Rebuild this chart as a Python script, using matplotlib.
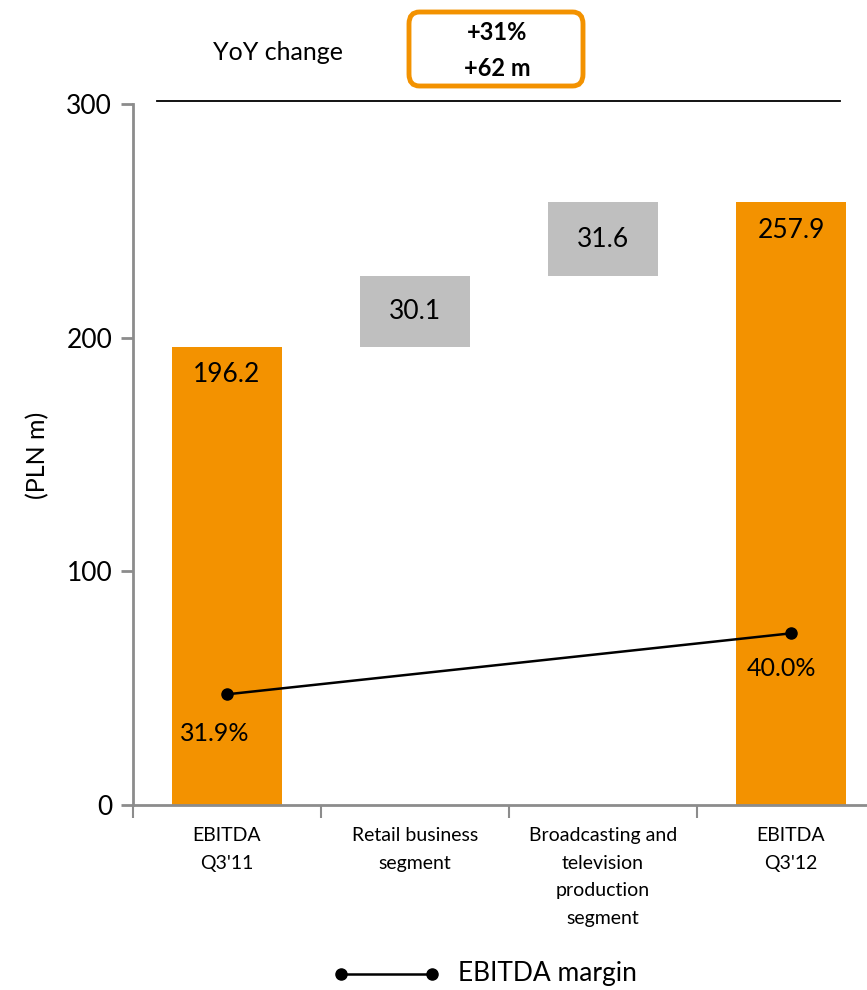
import numpy as np
import matplotlib.pyplot as plt
from matplotlib.lines import Line2D
from matplotlib.patches import FancyBboxPatch

plt.rcParams['font.family'] = ['Lato', 'DejaVu Sans']

categories = ["EBITDA\nQ3'11", "Retail business\nsegment",
              "Broadcasting and\ntelevision\nproduction\nsegment", "EBITDA\nQ3'12"]
ebitda_start = 196.2
steps = [30.1, 31.6]
ebitda_end = 257.9
margin_pos = [0, 3]
margin = [31.9, 40.0]
margin_labels = ["31.9%", "40.0%"]
yoy_pct = "+31%"
yoy_abs = "+62 m"

orange = '#F39200'
grey = '#BFBFBF'
spine = '#8C8C8C'

fig = plt.figure(figsize=(8.67, 9.9), dpi=100)
ax = fig.add_axes([133/867, 1-805/990, 752/867, 701/990])

x = np.arange(len(categories))
w = 0.59

# totals
ax.bar(x[0], ebitda_start, width=w, color=orange, zorder=2)
ax.bar(x[3], ebitda_end, width=w, color=orange, zorder=2)
ax.text(x[0], ebitda_start - 12, f"{ebitda_start:.1f}", ha='center', va='center', fontsize=19)
ax.text(x[3], ebitda_end - 12, f"{ebitda_end:.1f}", ha='center', va='center', fontsize=19)

# floating steps
base = ebitda_start
for i, s in enumerate(steps):
    ax.bar(x[i+1], s, bottom=base, width=w, color=grey, zorder=2)
    ax.text(x[i+1], base + s/2, f"{s:.1f}", ha='center', va='center', fontsize=19)
    base += s

ax.set_xlim(-0.5, 3.5)
ax.set_ylim(0, 300)
ax.set_yticks([0, 100, 200, 300])
ax.tick_params(axis='y', labelsize=19, length=9, width=2, color=spine, pad=6)
ax.set_xticks([-0.5, 0.5, 1.5, 2.5, 3.5])
ax.set_xticklabels([])
ax.tick_params(axis='x', which='major', length=9, width=1.5, color=spine)
ax.set_xticks(x, minor=True)
ax.set_xticklabels(categories, minor=True, fontsize=14, linespacing=1.75)
ax.tick_params(axis='x', which='minor', length=0, pad=16)
for s in ['top', 'right']:
    ax.spines[s].set_visible(False)
for s in ['left', 'bottom']:
    ax.spines[s].set_color(spine)
    ax.spines[s].set_linewidth(2)
fig.text(38/867, 1-455/990, "(PLN m)", rotation=90, ha='center', va='center', fontsize=18)

# margin line on a hidden secondary axis
ax2 = ax.twinx()
ax2.set_ylim(17.2, 110.3)
ax2.axis('off')
ax2.plot(margin_pos, margin, color='black', lw=1.8, marker='o', ms=8)
ax2.annotate(margin_labels[0], (margin_pos[0], margin[0]), xytext=(-9, -28),
             textcoords='offset points', ha='center', va='center', fontsize=18)
ax2.annotate(margin_labels[1], (margin_pos[1], margin[1]), xytext=(-7, -25),
             textcoords='offset points', ha='center', va='center', fontsize=18)

# top line and YoY box
fig.add_artist(Line2D([157/867, 840/867], [1-101/990, 1-101/990], color='black', lw=1.3))
fig.text(278/867, 1-52/990, "YoY change", ha='center', va='center', fontsize=18)
fig.add_artist(FancyBboxPatch((409/867, 1-86/990), 174/867, 74/990,
                              boxstyle="round,pad=0,rounding_size=0.012",
                              transform=fig.transFigure, fc='white', ec=orange, lw=3.5))
fig.text(497/867, 1-33/990, yoy_pct, ha='center', va='center', fontsize=17, fontweight='bold')
fig.text(497/867, 1-68/990, yoy_abs, ha='center', va='center', fontsize=17, fontweight='bold')

# legend
fig.add_artist(Line2D([341/867, 432/867], [1-974/990, 1-974/990], color='black', lw=1.8,
                      marker='o', ms=8, markevery=[0, 1]))
fig.text(458/867, 1-974/990, "EBITDA margin", ha='left', va='center', fontsize=19)

fig.savefig("out.png", dpi=100)
